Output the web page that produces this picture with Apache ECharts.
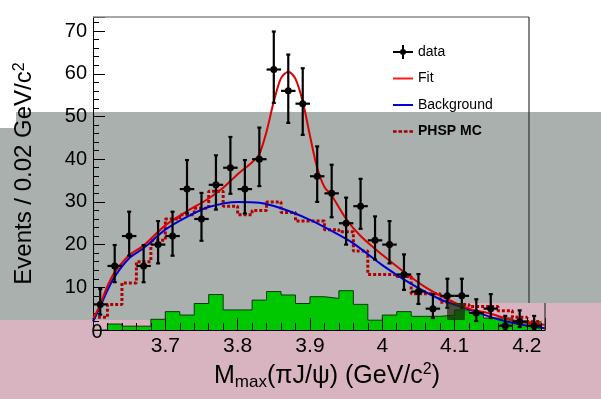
<!DOCTYPE html>
<html>
<head>
<meta charset="utf-8">
<script src="https://cdn.jsdelivr.net/npm/echarts@6/dist/echarts.min.js"></script>
<style>
  html, body { margin: 0; padding: 0; background: #fff; }
  #divChart { width: 601px; height: 399px; }
</style>
</head>
<body>
<div id="divChart"></div>
<script>
// 数据点 (bin centers, GeV/c^2)
var binCenters = [3.61, 3.63, 3.65, 3.67, 3.69, 3.71, 3.73, 3.75, 3.77, 3.79, 3.81, 3.83, 3.85, 3.87, 3.89, 3.91,
    3.93, 3.95, 3.97, 3.99, 4.01, 4.03, 4.05, 4.07, 4.09, 4.11, 4.13, 4.15, 4.17, 4.19, 4.21];
var dataCounts = [6, 15, 22, 15, 20, 22, 33, 26, 34, 38, 33, 40, 61, 56, 53, 36,
    32, 25, 29, 21, 20, 13, 9, 5, 8, 8, 4, 5, 1, 2, 1];
var errLow = [2.4, 3.8, 4.6, 3.8, 4.4, 4.6, 5.7, 5.1, 5.8, 6.1, 5.7, 6.3, 7.8, 7.5, 7.3, 6.0,
    5.6, 5.0, 5.3, 4.5, 4.4, 3.6, 2.9, 2.2, 2.8, 2.8, 1.9, 2.2, 0.8, 1.3, 0.8];
var errHigh = [3.6, 4.9, 5.7, 4.9, 5.5, 5.7, 6.8, 6.1, 6.9, 7.2, 6.8, 7.4, 8.9, 8.5, 8.3, 7.0,
    6.7, 6.0, 6.4, 5.6, 5.5, 4.7, 4.1, 3.4, 4.0, 4.0, 3.2, 3.4, 2.3, 2.6, 2.3];
var halfBin = 0.01;

// Fit 曲线
var fitX = [3.60, 3.61, 3.62, 3.63, 3.65, 3.67, 3.70, 3.73, 3.76, 3.78, 3.80, 3.82, 3.83, 3.84, 3.85, 3.86,
    3.87, 3.88, 3.89, 3.90, 3.91, 3.92, 3.93, 3.95, 3.97, 4.00, 4.03, 4.06, 4.09, 4.12, 4.15, 4.18, 4.225];
var fitY = [2.5, 6.0, 10.3, 13.5, 17.5, 19.8, 24.5, 27.8, 30.8, 33.3, 36.5, 39.3, 41.2, 46.5, 53.5, 59.0,
    60.5, 58.8, 53.5, 45.5, 38.0, 33.5, 31.5, 26.0, 22.0, 17.6, 13.6, 10.0, 7.2, 5.0, 3.8, 2.3, 1.2];

// Background 曲线
var bkgX = [3.60, 3.61, 3.62, 3.63, 3.65, 3.67, 3.70, 3.73, 3.76, 3.80, 3.83, 3.86, 3.90, 3.93, 3.96,
    4.00, 4.04, 4.08, 4.12, 4.16, 4.20, 4.225];
var bkgY = [2.0, 5.5, 9.3, 12.5, 16.8, 19.2, 23.5, 26.5, 28.8, 30.0, 29.8, 28.5, 25.8, 23.2, 20.3,
    15.2, 10.8, 7.2, 4.8, 2.5, 1.0, 0.4];

// 直方图 bin 边界
var binEdges = [3.60, 3.62, 3.64, 3.66, 3.68, 3.70, 3.72, 3.74, 3.76, 3.78, 3.80, 3.82, 3.84, 3.86, 3.88, 3.90,
    3.92, 3.94, 3.96, 3.98, 4.00, 4.02, 4.04, 4.06, 4.08, 4.10, 4.12, 4.14, 4.16, 4.18, 4.20, 4.22];
// PHSP MC
var mcValues = [3, 6, 11, 16, 21, 26, 27, 28.5, 32.5, 29, 27, 28, 30, 27.5, 25.5, 25.5,
    23.5, 23, 18.5, 13, 13, 12.5, 8.5, 8.5, 6.5, 6, 5.5, 5.5, 4.5, 3, 2];
// 绿色直方图
var greenValues = [0, 1.4, 0.9, 0.9, 2.5, 4.3, 3.5, 6.2, 8.3, 4.7, 4.7, 7, 9, 8.2, 6.2, 7.8,
    7.4, 9.2, 6, 2.3, 3.5, 4.3, 3.2, 3.2, 3.5, 4.7, 4, 2.8, 2.8, 1.9, 1.9];

var cFont = "'Liberation Sans', Arial, sans-serif";

function toPairs(ax, ay) {
    var a = [];
    for (var i = 0; i < ax.length; i++) a.push([ax[i], ay[i]]);
    return a;
}

// step 直方图: 左边界 + 最后一个右边界
function histPairs(aEdges, aVal) {
    var a = [];
    for (var i = 0; i < aVal.length; i++) a.push([aEdges[i], aVal[i]]);
    a.push([aEdges[aVal.length], aVal[aVal.length - 1]]);
    return a;
}

var aoPoints = [];
for (var i = 0; i < binCenters.length; i++) {
    aoPoints.push([binCenters[i], dataCounts[i], errLow[i], errHigh[i]]);
}

// 图例图标
var cDataIcon = 'path://M0,6H20V8H0Z M9,0H11V14H9Z M13,7A3,3,0,1,1,7,7A3,3,0,1,1,13,7Z';
var cLineIcon = 'path://M0,6H20V8H0Z';
var cDashIcon = 'path://M0,5H4V8H0Z M6,5H10V8H6Z M12,5H16V8H12Z M18,5H22V8H18Z';

var oChart = echarts.init(document.getElementById('divChart'));

var oOption = {
    backgroundColor: '#fff',
    animation: false,
    textStyle: { fontFamily: cFont },
    graphic: [
        { type: 'rect', z: -100, shape: { x: 16, y: 112, width: 585, height: 208 }, style: { fill: '#a9b0ae' } },
        { type: 'rect', z: -100, shape: { x: 0, y: 128, width: 16, height: 192 }, style: { fill: '#a9b0ae' } },
        { type: 'rect', z: -100, shape: { x: 0, y: 320, width: 447, height: 79 }, style: { fill: '#d8b4c0' } },
        { type: 'rect', z: -100, shape: { x: 447, y: 303, width: 154, height: 96 }, style: { fill: '#d8b4c0' } },
        { type: 'rect', z: 100, shape: { x: 447, y: 303, width: 18, height: 17 }, style: { fill: 'rgba(25,45,15,0.75)' } },
        { type: 'line', z: 50, shape: { x1: 93, y1: 17, x2: 529, y2: 17 }, style: { stroke: '#8a8a8a', lineWidth: 1.5 } },
        { type: 'line', z: 50, shape: { x1: 529, y1: 17, x2: 529, y2: 303 }, style: { stroke: '#333', lineWidth: 1.2 } },
        { type: 'line', z: 50, shape: { x1: 545, y1: 303, x2: 545, y2: 330 }, style: { stroke: '#333', lineWidth: 1.2 } },
        { type: 'text', z: 50, x: 97, y: 332, style: { text: '0', font: '20px ' + cFont, fill: '#000', align: 'center', verticalAlign: 'middle' } }
    ],
    legend: {
        orient: 'vertical',
        left: 393,
        top: 45,
        padding: 0,
        itemWidth: 20,
        itemHeight: 14,
        itemGap: 12.5,
        textStyle: { fontSize: 14, color: '#000', fontFamily: cFont },
        data: [
            { name: 'data', icon: cDataIcon, itemStyle: { color: '#000' } },
            { name: 'Fit', icon: cLineIcon, itemStyle: { color: '#ff1a1a' } },
            { name: 'Background', icon: cLineIcon, itemStyle: { color: '#0000d0' } },
            { name: 'PHSP MC', icon: cDashIcon, itemStyle: { color: '#a00000' }, textStyle: { fontWeight: 'bold' } }
        ]
    },
    grid: { left: 93, top: 17, width: 452, height: 313 },
    xAxis: {
        type: 'value',
        min: 3.6,
        max: 4.225,
        interval: 0.1,
        z: 10,
        name: '{m|M}{sub|max}{m|(πJ/ψ) (GeV/c}{sup|2}{m|)}',
        nameLocation: 'middle',
        nameGap: 32,
        nameTextStyle: {
            padding: [0, 0, 0, 16],
            rich: {
                m: { fontSize: 25, color: '#000', fontFamily: cFont },
                sub: { fontSize: 17, color: '#000', fontFamily: cFont, verticalAlign: 'bottom', padding: [12, 0, 0, 0] },
                sup: { fontSize: 16, color: '#000', fontFamily: cFont, verticalAlign: 'top', padding: [0, 0, 10, 0] }
            }
        },
        axisLine: { show: true, lineStyle: { color: '#000', width: 1 } },
        axisTick: { inside: true, length: 12, lineStyle: { color: '#000' } },
        minorTick: { show: true, splitNumber: 5, length: 7, lineStyle: { color: '#000' } },
        splitLine: { show: false },
        axisLabel: {
            fontSize: 21,
            color: '#000',
            margin: 6,
            fontFamily: cFont,
            formatter: function (v) {
                if (v < 3.65 || v > 4.21) return '';
                return String(parseFloat(v.toFixed(2)));
            }
        }
    },
    yAxis: {
        type: 'value',
        min: 0,
        max: 73.3,
        interval: 10,
        name: 'Events / 0.02 GeV/c{sup|2}',
        nameLocation: 'middle',
        nameGap: 56,
        nameTextStyle: {
            fontSize: 24,
            color: '#000',
            fontFamily: cFont,
            rich: {
                sup: { fontSize: 16, color: '#000', fontFamily: cFont, verticalAlign: 'top', padding: [0, 0, 9, 0] }
            }
        },
        axisLine: { show: true, lineStyle: { color: '#000', width: 1 } },
        axisTick: { inside: true, length: 12, lineStyle: { color: '#000' } },
        minorTick: { show: true, splitNumber: 5, length: 6, lineStyle: { color: '#000' } },
        splitLine: { show: false },
        axisLabel: {
            fontSize: 20,
            color: '#000',
            margin: 6,
            fontFamily: cFont,
            formatter: function (v) {
                return (v > 0 && v % 10 === 0) ? String(v) : '';
            }
        }
    },
    series: [
        {
            name: 'green',
            type: 'line',
            step: 'end',
            symbol: 'none',
            z: 1,
            data: histPairs(binEdges, greenValues),
            lineStyle: { color: '#0a3a0a', width: 1 },
            areaStyle: { color: '#00c800', opacity: 1 }
        },
        {
            name: 'PHSP MC',
            type: 'line',
            step: 'end',
            symbol: 'none',
            z: 3,
            data: histPairs(binEdges, mcValues),
            itemStyle: { color: '#b00000' },
            lineStyle: { color: '#b00000', width: 3, type: [3, 2] }
        },
        {
            name: 'Background',
            type: 'line',
            smooth: 0.3,
            symbol: 'none',
            z: 4,
            data: toPairs(bkgX, bkgY),
            itemStyle: { color: '#0000d0' },
            lineStyle: { color: '#0000d0', width: 2 }
        },
        {
            name: 'Fit',
            type: 'line',
            smooth: 0.3,
            symbol: 'none',
            z: 5,
            data: toPairs(fitX, fitY),
            itemStyle: { color: '#dd0000' },
            lineStyle: { color: '#dd0000', width: 2 }
        },
        {
            name: 'data',
            type: 'custom',
            z: 6,
            itemStyle: { color: '#000' },
            encode: { x: 0, y: 1 },
            data: aoPoints,
            renderItem: function (params, api) {
                var x = api.value(0), y = api.value(1);
                var lo = api.value(2), hi = api.value(3);
                var c = api.coord([x, y]);
                var top = api.coord([x, y + hi]);
                var bot = api.coord([x, y - lo]);
                var left = api.coord([x - halfBin, y]);
                var right = api.coord([x + halfBin, y]);
                var st = { stroke: '#000', lineWidth: 2.2 };
                return {
                    type: 'group',
                    children: [
                        { type: 'line', shape: { x1: c[0], y1: top[1], x2: c[0], y2: bot[1] }, style: st },
                        { type: 'line', shape: { x1: left[0], y1: c[1], x2: right[0], y2: c[1] }, style: st },
                        { type: 'line', shape: { x1: c[0] - 2, y1: top[1], x2: c[0] + 2, y2: top[1] }, style: st },
                        { type: 'line', shape: { x1: c[0] - 2, y1: bot[1], x2: c[0] + 2, y2: bot[1] }, style: st },
                        { type: 'circle', shape: { cx: c[0], cy: c[1], r: 3.5 }, style: { fill: '#000' } }
                    ]
                };
            }
        }
    ]
};

oChart.setOption(oOption, true);
</script>
</body>
</html>
